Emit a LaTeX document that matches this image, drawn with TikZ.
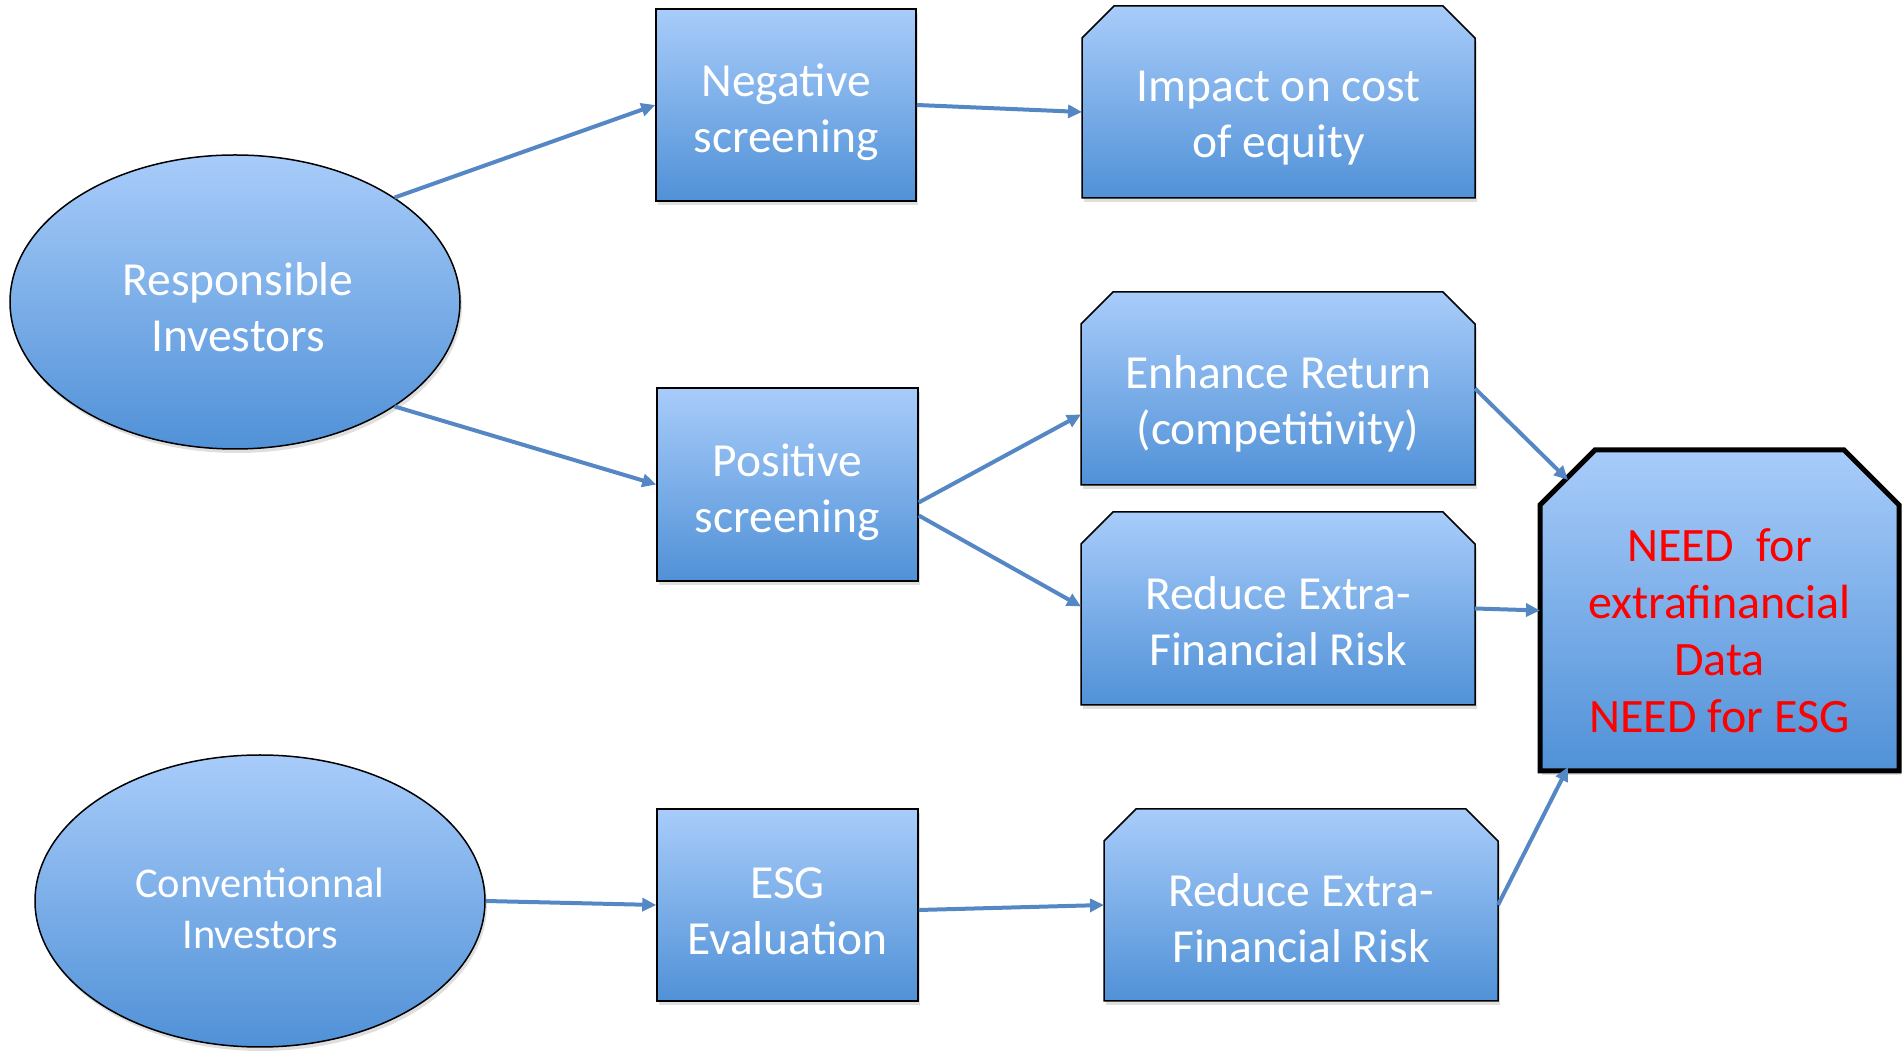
\documentclass[tikz,border=0pt]{standalone}
\usepackage{fontspec}
\setmainfont{Carlito}
\usetikzlibrary{shapes.geometric,arrows.meta,shadows,calc}
\pgfdeclarelayer{background}
\pgfsetlayers{background,main}
\definecolor{topblue}{RGB}{168,204,250}
\definecolor{botblue}{RGB}{80,145,215}
\definecolor{arrowblue}{RGB}{84,135,196}
\definecolor{needred}{RGB}{255,0,0}
\newcommand\chamfshape[3]{%
  \path[#3] ([yshift=-#2]#1.north west) -- ([xshift=#2]#1.north west)
    -- ([xshift=-#2]#1.north east) -- ([yshift=-#2]#1.north east)
    -- (#1.south east) -- (#1.south west) -- cycle;}
\begin{document}
\begin{tikzpicture}[x=1pt,y=1pt,
  fillgrad/.style={top color=topblue,bottom color=botblue},
  shad/.style={drop shadow={opacity=0.25,shadow xshift=2pt,shadow yshift=-4pt}},
  bigtxt/.style={text=white,font=\fontsize{47.5}{56}\selectfont,align=center,inner sep=0pt},
  ell/.style={ellipse,draw=black,line width=1.5pt,fillgrad,shad,inner sep=0pt},
  sqbox/.style={rectangle,draw=black,line width=1.5pt,fillgrad,shad,inner sep=0pt},
  cbox/.style={rectangle,draw=none,inner sep=0pt,outer sep=0pt},
  cshape/.style={draw=black,line width=1.5pt,fillgrad,shad,line join=miter},
  conn/.style={draw=arrowblue,line width=4pt,-{Triangle[length=14pt,width=13pt]}}]
\useasboundingbox (0,0) rectangle (1902,1054);

% ellipses
\node[ell,minimum width=450pt,minimum height=294pt] (resp) at (235,752) {};
\node[ell,minimum width=450pt,minimum height=292pt] (conv) at (260,153) {};

% square boxes
\node[sqbox,minimum width=260pt,minimum height=192pt] (neg) at (786,949) {};
\node[sqbox,minimum width=261pt,minimum height=193pt] (pos) at (787.5,569.5) {};
\node[sqbox,minimum width=261pt,minimum height=192pt] (esg) at (787.5,149) {};

% chamfered boxes (outline nodes)
\node[cbox,minimum width=393pt,minimum height=192pt] (imp) at (1278.5,952) {};
\node[cbox,minimum width=394pt,minimum height=193pt] (enh) at (1278,665.5) {};
\node[cbox,minimum width=394pt,minimum height=193pt] (red1) at (1278,445.5) {};
\node[cbox,minimum width=394pt,minimum height=192pt] (red2) at (1301,149) {};
\node[cbox,minimum width=359pt,minimum height=321pt] (need) at (1719.5,443.5) {};

\begin{pgfonlayer}{background}
\chamfshape{imp}{32pt}{cshape}
\chamfshape{enh}{32pt}{cshape}
\chamfshape{red1}{32pt}{cshape}
\chamfshape{red2}{32pt}{cshape}
\chamfshape{need}{55pt}{cshape,line width=5pt}
\end{pgfonlayer}

% texts
\node[bigtxt] (respt) at ([xshift=3pt,yshift=-5pt]resp.center) {Responsible\\Investors};
\node[bigtxt,font=\fontsize{42.5}{51}\selectfont] (convt) at ([yshift=-7pt]conv.center) {Conventionnal\\Investors};
\node[bigtxt] (negt) at ([yshift=-7pt]neg.center) {Negative\\screening};
\node[bigtxt] (post) at ([yshift=-8pt]pos.center) {Positive\\screening};
\node[bigtxt] (esgt) at ([yshift=-6pt]esg.center) {ESG\\Evaluation};
\node[bigtxt] (impt) at ([yshift=-16pt]imp.center) {Impact on cost\\of equity};
\node[bigtxt] (enht) at ([yshift=-15pt]enh.center) {Enhance Return\\(competitivity)};
\node[bigtxt] (red1t) at ([yshift=-13pt]red1.center) {Reduce Extra-\\Financial Risk};
\node[bigtxt] (red2t) at ([yshift=-13pt]red2.center) {Reduce Extra-\\Financial Risk};
\node[bigtxt,text=needred,font=\fontsize{48}{57}\selectfont] (needt) at ([yshift=-20pt]need.center) {NEED\ \ for\\extrafinancial\\Data\\NEED for ESG};

% connectors
\draw[conn] (resp.north east) -- (neg.west);
\draw[conn] (resp.south east) -- (pos.west);
\draw[conn] (neg.east) -- ([yshift=-10pt]imp.west);
\draw[conn] ([yshift=-18pt]pos.east) -- ([yshift=-26pt]enh.west);
\draw[conn] ([yshift=-31pt]pos.east) -- ([yshift=2pt]red1.west);
\draw[conn] (enh.east) -- ([xshift=28pt,yshift=-30pt]need.north west);
\draw[conn] (red1.east) -- (need.west);
\draw[conn] (conv.east) -- (esg.west);
\draw[conn] ([yshift=-5pt]esg.east) -- (red2.west);
\draw[conn] (red2.east) -- ([xshift=28pt,yshift=4pt]need.south west);
\end{tikzpicture}
\end{document}
